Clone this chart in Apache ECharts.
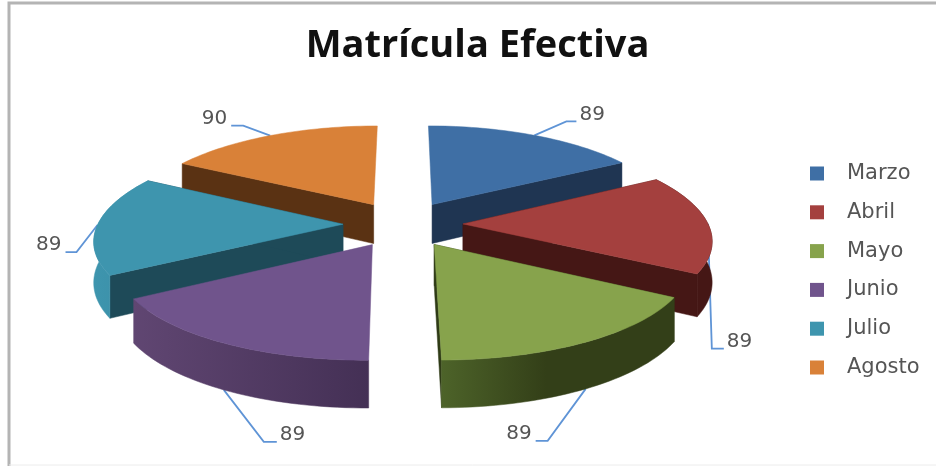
<!DOCTYPE html>
<html><head><meta charset="utf-8">
<style>html,body{margin:0;padding:0;background:#fff}#c{width:936px;height:466px}</style>
<script src="https://cdn.jsdelivr.net/npm/echarts@6/dist/echarts.min.js"></script>
</head><body><div id="c"></div>
<script>
const titleText = 'Matrícula Efectiva';
const months = ['Marzo','Abril','Mayo','Junio','Julio','Agosto'];
const values = [89,89,89,89,89,90];
const topColors  = ['#3f6fa5','#a4403e','#87a34c','#70548c','#3e95ae','#d98138'];
const wallColors = ['#1f3552','#451715','#2f3b16','#3f2d55','#1e4a58','#5a3213'];
const rimLeft    = ['#1f3552','#451715','#4d6329','#604672','#3e95ae','#5a3213'];
const rimRight   = ['#1f3552','#451715','#333f18','#443055','#3a8da5','#5a3213'];
const rimStop    = [1,1,0.45,1,1,1];
const showRim       = [false,true,true,true,true,false];
const showStartWall = [false,true,true,false,true,true];
const showEndWall   = [true,true,true,false,true,false];
const paintOrder = [0,5,1,4,2,3];
// label layout: elbow offset from the rim anchor, then length of the horizontal stub
const leaderElbow = [[32,-14],[4,125],[-38,52],[40,52],[-21,27],[-27,-10]];
const leaderStub  = [10,12,-12,13,-11,-12];
const anchorOnBase = [false,false,true,true,false,false];

const cx = 403, cy = 224, R = 245, E = 60, H = 40, TILT = 0.384, K = 0.000547, KX = 0.0006;
const total = values.reduce((a,b)=>a+b,0);
const starts = []; { let c = 0; values.forEach(v=>{starts.push(c/total*Math.PI*2); c+=v;}); }

function project(X,Y,Z){ const s = 1/(1-K*Y), sx = 1/(1-KX*Y); return [cx+X*sx, cy+Y*TILT*s+Z*s]; }
function slicePoints(i){
  const a0 = starts[i], a1 = a0 + values[i]/total*Math.PI*2, mid=(a0+a1)/2;
  return {a0,a1,mid,ox:E*Math.sin(mid),oy:-E*Math.cos(mid)};
}
function rimPt(sl,a,z){ return project(sl.ox+R*Math.sin(a), sl.oy-R*Math.cos(a), z); }

function renderSlice(i){
  return function(params, api){
    const v = api.value(0);
    const sl = slicePoints(i), N = 40;
    const arcTop=[],arcBot=[];
    for(let k=0;k<=N;k++){ const a=sl.a0+(sl.a1-sl.a0)*k/N; arcTop.push(rimPt(sl,a,0)); arcBot.push(rimPt(sl,a,H)); }
    const cT = project(sl.ox,sl.oy,0), cB = project(sl.ox,sl.oy,H);
    const poly=(pts,fill)=>({type:'polygon',shape:{points:pts},style:{fill:fill,stroke:fill,lineWidth:0.5}});
    const rimFill = new echarts.graphic.LinearGradient(0,0,1,0,[{offset:0,color:rimLeft[i]},{offset:rimStop[i],color:rimRight[i]},{offset:1,color:rimRight[i]}]);
    const children=[];
    const anchor = rimPt(sl,sl.mid,anchorOnBase[i]?H:0);
    const elbow = [anchor[0]+leaderElbow[i][0],anchor[1]+leaderElbow[i][1]];
    const stub = [elbow[0]+leaderStub[i],elbow[1]];
    children.push({type:'polyline',shape:{points:[anchor,elbow,stub]},style:{fill:null,stroke:'#5f94d6',lineWidth:1.8}});
    if(showStartWall[i]) children.push(poly([cT,arcTop[0],arcBot[0],cB],wallColors[i]));
    if(showEndWall[i]) children.push(poly([cT,arcTop[N],arcBot[N],cB],wallColors[i]));
    if(showRim[i]) children.push(poly(arcTop.concat(arcBot.slice().reverse()),rimFill));
    children.push(poly([cT].concat(arcTop),topColors[i]));
    children.push({type:'text',style:{text:String(v),x:stub[0]+(leaderStub[i]>0?3:-4),y:stub[1]-7,
      align:leaderStub[i]>0?'left':'right',verticalAlign:'middle',fill:'#555',font:'20px "DejaVu Sans"'}});
    return {type:'group',children};
  };
}

const chart = echarts.init(document.getElementById('c'),null,{renderer:'canvas'});
chart.setOption({
  animation:false,
  backgroundColor:'#fff',
  title:{text:titleText,left:472.5,top:22,textAlign:'center',textStyle:{fontFamily:'Open Sans',fontWeight:'bold',fontSize:38,color:'#111'}},
  legend:{orient:'vertical',left:805,top:158,itemWidth:14,itemHeight:14,itemGap:17.8,icon:'rect',
    data:months,textStyle:{fontFamily:'DejaVu Sans',fontSize:21,color:'#555',lineHeight:20,padding:[0,0,0,18]}},
  graphic:[
    {type:'polyline',silent:true,shape:{points:[[9,466],[9,3],[936,3]]},style:{fill:null,stroke:'#b4b4b4',lineWidth:3}},
    {type:'line',silent:true,shape:{x1:9,y1:465,x2:936,y2:465},style:{stroke:'#ececec',lineWidth:1}}
  ],
  series:paintOrder.map((i,order)=>({
    type:'custom',name:months[i],coordinateSystem:'none',z:2+order,
    itemStyle:{color:topColors[i]},
    renderItem:renderSlice(i),
    data:[[values[i]]]
  }))
});
</script></body></html>
